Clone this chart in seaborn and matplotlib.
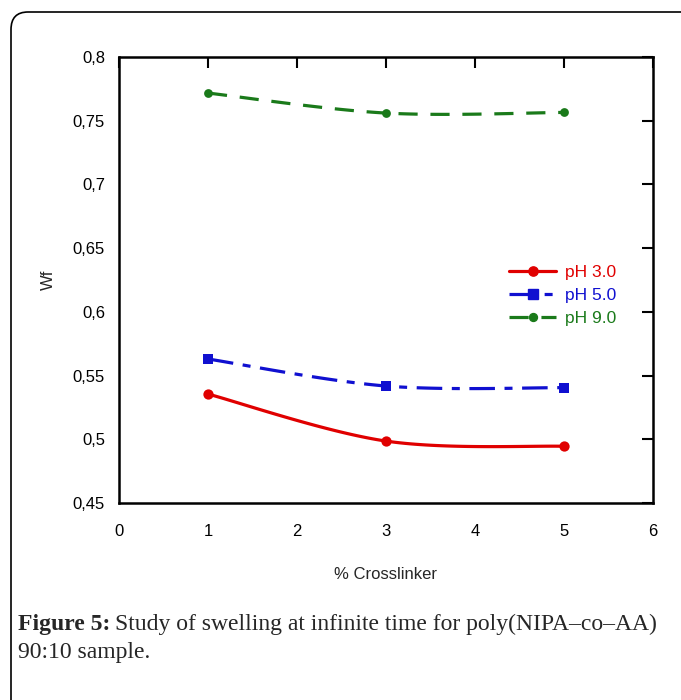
import numpy as np
import matplotlib
matplotlib.use("Agg")
import matplotlib.pyplot as plt
import seaborn as sns
import pandas as pd
from matplotlib.lines import Line2D
from matplotlib.patches import FancyBboxPatch

crosslinker = [1, 3, 5]
wf_ph3 = [0.5355, 0.4986, 0.4945]
wf_ph5 = [0.5630, 0.5418, 0.5405]
wf_ph9 = [0.7717, 0.7560, 0.7565]
series_names = ["pH 3.0", "pH 5.0", "pH 9.0"]
colors = ["#e00000", "#1010d0", "#1a7a1a"]
markers = ["o", "s", "o"]
marker_sizes = [55, 60, 40]
dashes = ["-", (0, (8, 3, 2.5, 3)), (0, (6, 4))]
x_ticks = [0, 1, 2, 3, 4, 5, 6]
y_ticks = [0.45, 0.5, 0.55, 0.6, 0.65, 0.7, 0.75, 0.8]


def smooth(xs, ys, n=40):
    # catmull-rom curve through the points (like Excel smoothed lines)
    p = np.column_stack([xs, ys]).astype(float)
    p = np.vstack([p[0], p, p[-1]])
    out = []
    t = np.linspace(0, 1, n)[:, None]
    for i in range(1, len(p) - 2):
        p0, p1, p2, p3 = p[i - 1], p[i], p[i + 1], p[i + 2]
        seg = 0.5 * ((2 * p1) + (-p0 + p2) * t + (2 * p0 - 5 * p1 + 4 * p2 - p3) * t ** 2
                     + (-p0 + 3 * p1 - 3 * p2 + p3) * t ** 3)
        out.append(seg)
    c = np.vstack(out)
    return c[:, 0], c[:, 1]


sns.set_style("white")
plt.rcParams["font.family"] = ["Liberation Sans", "DejaVu Sans"]

fig = plt.figure(figsize=(6.81, 7.0), dpi=100)
ax = fig.add_axes([119 / 681, 1 - 503 / 700, 534 / 681, 446 / 700])

handles = []
for name, ys, col, mk, ms, ls in zip(series_names, [wf_ph3, wf_ph5, wf_ph9], colors, markers,
                                     marker_sizes, dashes):
    sx, sy = smooth(crosslinker, ys)
    sns.lineplot(x=sx, y=sy, ax=ax, color=col, linewidth=2.3, linestyle=ls, sort=False, estimator=None)
    sns.scatterplot(x=crosslinker, y=ys, ax=ax, color=col, marker=mk, s=ms, linewidth=0, zorder=5)
    handles.append(Line2D([], [], color=col, linestyle=ls, linewidth=2.3, marker=mk,
                          markersize=np.sqrt(ms) * 0.9))

ax.set_xlim(0, 6)
ax.set_ylim(0.45, 0.8)
ax.set_xticks(x_ticks)
ax.set_yticks(y_ticks)
ax.set_xticklabels([str(v) for v in x_ticks])
ax.set_yticklabels([("%g" % v).replace(".", ",") for v in y_ticks])
ax.tick_params(direction="in", length=8, width=1.5, labelsize=12, colors="black",
               top=True, right=True)
ax.tick_params(axis="x", pad=15)
ax.tick_params(axis="y", pad=10)
for s in ax.spines.values():
    s.set_linewidth(1.8)
    s.set_color("black")
ax.set_xlabel("% Crosslinker", fontsize=12, labelpad=20)
ax.set_ylabel("Wf", fontsize=12, labelpad=12)

leg = ax.legend(handles, series_names, loc="upper left", bbox_to_anchor=(0.718, 0.55),
                frameon=False, fontsize=12.5, handlelength=2.7, handletextpad=0.5,
                labelspacing=0.45, borderaxespad=0)
for txt, col in zip(leg.get_texts(), colors):
    txt.set_color(col)

box = FancyBboxPatch((11 / 681, -0.1), 1.2, 0.1 + 1 - 12 / 700,
                     boxstyle="round,pad=0,rounding_size=0.025", transform=fig.transFigure,
                     fill=False, edgecolor="black", linewidth=1.2, clip_on=False)
fig.patches.append(box)

serif = ["Liberation Serif", "DejaVu Serif"]
t1 = fig.text(18 / 681, 1 - 630 / 700, "Figure 5:", fontsize=17, fontweight="bold", family=serif)
fig.canvas.draw()
bb = t1.get_window_extent()
fig.text(bb.x1 / 681 + 5 / 681, 1 - 630 / 700,
         "Study of swelling at infinite time for poly(NIPA\u2013co\u2013AA)",
         fontsize=17, family=serif)
fig.text(18 / 681, 1 - 658 / 700, "90:10 sample.", fontsize=17, family=serif)

fig.savefig("out.png", dpi=100)
